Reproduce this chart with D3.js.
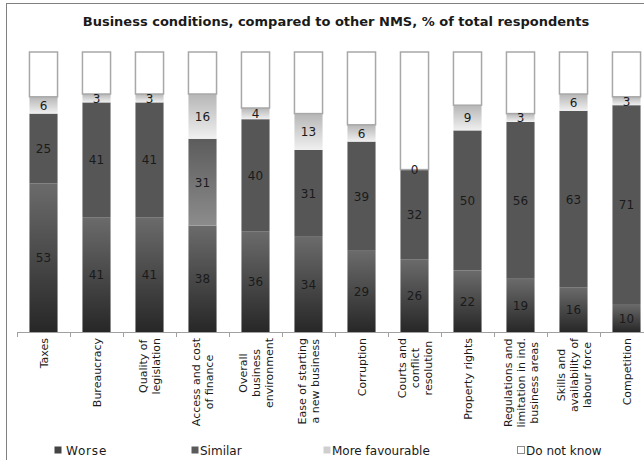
<!DOCTYPE html>
<html>
<head>
<meta charset="utf-8">
<script src="https://cdn.jsdelivr.net/npm/d3@7"></script>
<style>
  body { margin: 0; background: #fff; }
  text { font-family: "DejaVu Sans", Verdana, sans-serif; fill: #1a1a1a; }
</style>
</head>
<body>
<div id="chart"></div>
<script>
var categories = [
  ["Taxes"],
  ["Bureaucracy"],
  ["Quality of", "legislation"],
  ["Access and cost", "of finance"],
  ["Overall", "business", "environment"],
  ["Ease of starting", "a new business"],
  ["Corruption"],
  ["Courts and", "conflict", "resolution"],
  ["Property rights"],
  ["Regulations and", "limitation in ind.", "business areas"],
  ["Skills and", "availability of", "labour force"],
  ["Competition"]
];
var worse      = [53, 41, 41, 38, 36, 34, 29, 26, 22, 19, 16, 10];
var similar    = [25, 41, 41, 31, 40, 31, 39, 32, 50, 56, 63, 71];
var favourable = [ 6,  3,  3, 16,  4, 13,  6,  0,  9,  3,  6,  3];
var dontKnow   = [16, 15, 15, 15, 20, 22, 26, 42, 19, 22, 15, 16];
var seriesNames = ["Worse", "Similar", "More favourable", "Do not know"];

var width = 644, height = 460;
var margin = {left: 17, right: -9, top: 52, bottom: 128};

var svg = d3.select("#chart").append("svg")
  .attr("width", width)
  .attr("height", height);

// gradients
var defs = svg.append("defs");
function grad(id, top, bottom) {
  var g = defs.append("linearGradient").attr("id", id)
    .attr("x1", 0).attr("y1", 0).attr("x2", 0).attr("y2", 1);
  g.append("stop").attr("offset", "0%").attr("stop-color", top);
  g.append("stop").attr("offset", "100%").attr("stop-color", bottom);
}
grad("g-worse", "#6b6b6b", "#272727");
grad("g-fav", "#b6b6b6", "#f0f0f0");
grad("g-sim-light", "#5c5c5c", "#8c8c8c");

var fills = ["url(#g-worse)", "#565656", "url(#g-fav)", "#ffffff"];

// outer frame
svg.append("rect")
  .attr("x", 6.5).attr("y", 3.5)
  .attr("width", 700).attr("height", 500)
  .attr("fill", "none")
  .attr("stroke", "#808080");

svg.append("text")
  .attr("x", 336).attr("y", 26)
  .attr("text-anchor", "middle")
  .style("font-size", "13px")
  .style("font-weight", "bold")
  .text("Business conditions, compared to other NMS, % of total respondents");

var x = d3.scaleBand()
  .domain(d3.range(categories.length))
  .range([margin.left, width - margin.right])
  .paddingInner(0.47).paddingOuter(0.235);

var y = d3.scaleLinear().domain([0, 100])
  .range([height - margin.bottom, margin.top]);

var rows = categories.map(function(c, i) {
  return {i: i, Worse: worse[i], Similar: similar[i], "More favourable": favourable[i], "Do not know": dontKnow[i]};
});
var stacked = d3.stack().keys(seriesNames)(rows);

var layers = svg.selectAll(".layer")
  .data(stacked)
  .enter().append("g")
    .attr("class", "layer");

layers.selectAll("rect")
  .data(function(d, k) { return d.map(function(p) { return {p: p, k: k}; }); })
  .enter().append("rect")
    .attr("x", function(d) { return x(d.p.data.i); })
    .attr("y", function(d) { return y(d.p[1]); })
    .attr("width", x.bandwidth())
    .attr("height", function(d) { return y(d.p[0]) - y(d.p[1]); })
    .attr("fill", function(d) {
      // the "Access and cost of finance" similar block is shaded lighter in the original
      if (d.k == 1 && d.p.data.i == 3) return "url(#g-sim-light)";
      return fills[d.k];
    })
    .attr("stroke", function(d) { return d.k == 3 ? "#a8a8a8" : "none"; })
    .attr("stroke-width", 1.5);

// value labels (not for "Do not know"), drawn over all bars
var labels = svg.append("g");
stacked.slice(0, 3).forEach(function(s) {
  labels.selectAll(null)
    .data(s)
    .enter().append("text")
      .attr("x", function(p) { return x(p.data.i) + x.bandwidth() / 2; })
      .attr("y", function(p) { return (y(p[0]) + y(p[1])) / 2 + 4.5; })
      .attr("text-anchor", "middle")
      .style("font-size", "12px")
      .text(function(p) { return p[1] - p[0]; });
});

// x axis
var axisY = y(0);
svg.append("line")
  .attr("x1", margin.left).attr("x2", width - margin.right)
  .attr("y1", axisY + 0.5).attr("y2", axisY + 0.5)
  .attr("stroke", "#a0a0a0");
svg.selectAll(".tick")
  .data(d3.range(categories.length + 1))
  .enter().append("line")
    .attr("class", "tick")
    .attr("x1", function(i) { return Math.round(margin.left + i * x.step()) + 0.5; })
    .attr("x2", function(i) { return Math.round(margin.left + i * x.step()) + 0.5; })
    .attr("y1", axisY).attr("y2", axisY + 5)
    .attr("stroke", "#a0a0a0");

// category labels, rotated
var lab = svg.selectAll(".cat")
  .data(categories)
  .enter().append("g")
    .attr("class", "cat")
    .attr("transform", function(d, i) {
      return "translate(" + (x(i) + x.bandwidth() / 2) + "," + axisY + ") rotate(-90)";
    });
lab.each(function(lines) {
  var g = d3.select(this);
  var n = lines.length;
  var texts = g.selectAll("text").data(lines).enter().append("text")
    .attr("text-anchor", "middle")
    .style("font-size", "11px")
    .attr("y", function(l, j) { return (j - (n - 1) / 2) * 13 + 4; })
    .text(function(l) { return l; });
  var L = 0;
  texts.each(function() { L = Math.max(L, this.getComputedTextLength()); });
  texts.attr("x", -6 - L / 2);
});

// legend
var legX = [54, 191, 323, 517];
var leg = svg.selectAll(".leg")
  .data(seriesNames)
  .enter().append("g")
    .attr("class", "leg")
    .attr("transform", function(d, i) { return "translate(" + legX[i] + ",446)"; });
leg.append("rect")
  .attr("width", 7).attr("height", 7)
  .attr("x", 0.5).attr("y", 0.5)
  .attr("fill", function(d, i) { return ["#444444", "#5a5a5a", "#cfcfcf", "#ffffff"][i]; })
  .attr("stroke", function(d, i) { return i == 3 ? "#8a8a8a" : "none"; });
leg.append("text")
  .attr("x", function(d, i) { return i == 0 ? 12 : 9; })
  .attr("y", 9)
  .style("font-size", "12px")
  .style("letter-spacing", function(d, i) { return i == 0 ? "0.8px" : "0px"; })
  .text(function(d) { return d; });
</script>
</body>
</html>
